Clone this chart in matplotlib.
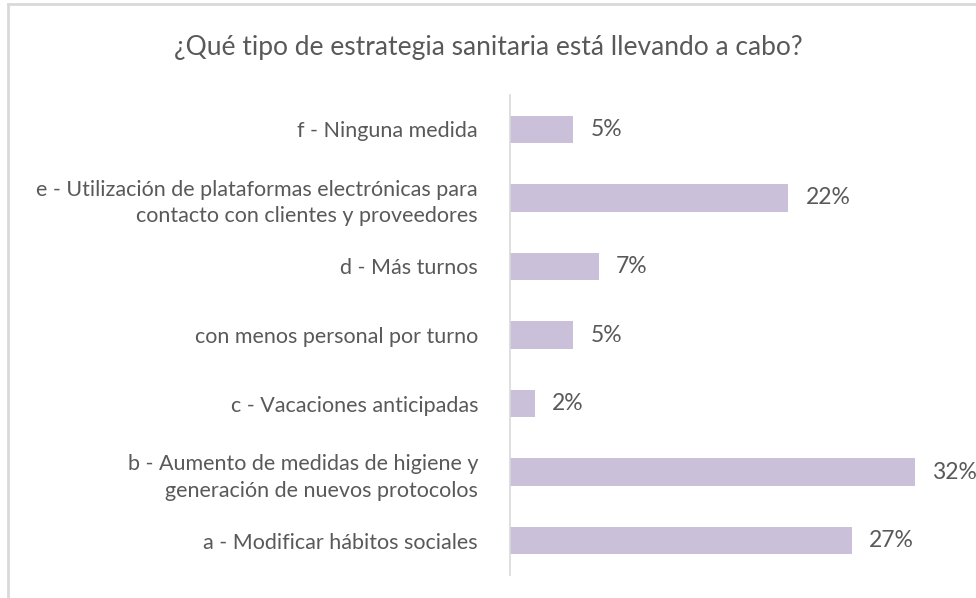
import matplotlib
matplotlib.use("Agg")
import matplotlib.pyplot as plt

categories = [
    "a - Modificar hábitos sociales",
    "b - Aumento de medidas de higiene y\ngeneración de nuevos protocolos",
    "c - Vacaciones anticipadas",
    "con menos personal por turno",
    "d - Más turnos",
    "e - Utilización de plataformas electrónicas para\ncontacto con clientes y proveedores",
    "f - Ninguna medida",
]
values = [27, 32, 2, 5, 7, 22, 5]
value_labels = ["27%", "32%", "2%", "5%", "7%", "22%", "5%"]
title = "¿Qué tipo de estrategia sanitaria está llevando a cabo?"

plt.rcParams['font.family'] = ['Lato', 'DejaVu Sans']
W, H = 976, 598
fig = plt.figure(figsize=(W/100, H/100), dpi=100)
fig.patch.set_facecolor("white")

border = "#d9d9d9"
fig.add_artist(plt.Line2D([8/W, 8/W], [0, 1 - 4/H], color=border, lw=2, transform=fig.transFigure))
fig.add_artist(plt.Line2D([8/W, 1], [1 - 4/H, 1 - 4/H], color=border, lw=2, transform=fig.transFigure))

scale = (915 - 510) / 32.0
xmax = 35
left = 510 / W
width = xmax * scale / W
bottom = (H - 575) / H
height = 480 / H
ax = fig.add_axes([left, bottom, width, height])
ax.set_xlim(0, xmax)
ax.set_ylim(-0.5, len(categories) - 0.5)

txt = "#595959"
ax.barh(range(len(categories)), values, height=0.4, color="#cbc0da")
for i, (v, lab) in enumerate(zip(values, value_labels)):
    ax.text(v + 17/scale, i, lab, va="center", ha="left", fontsize=16.5, color=txt)

ax.set_yticks(range(len(categories)))
ax.set_yticklabels(categories, fontsize=15.5, color=txt, linespacing=1.4)
ax.tick_params(axis="y", length=0, pad=23)
ax.set_xticks([])
for s in ["top", "right", "bottom"]:
    ax.spines[s].set_visible(False)
ax.spines["left"].set_color("#d9d9d9")
ax.spines["left"].set_linewidth(1.2)
ax.set_facecolor("none")

fig.text(0.5, 1 - 48/H, title, ha="center", va="center", fontsize=19, color=txt)

fig.savefig("out.png", dpi=100)
